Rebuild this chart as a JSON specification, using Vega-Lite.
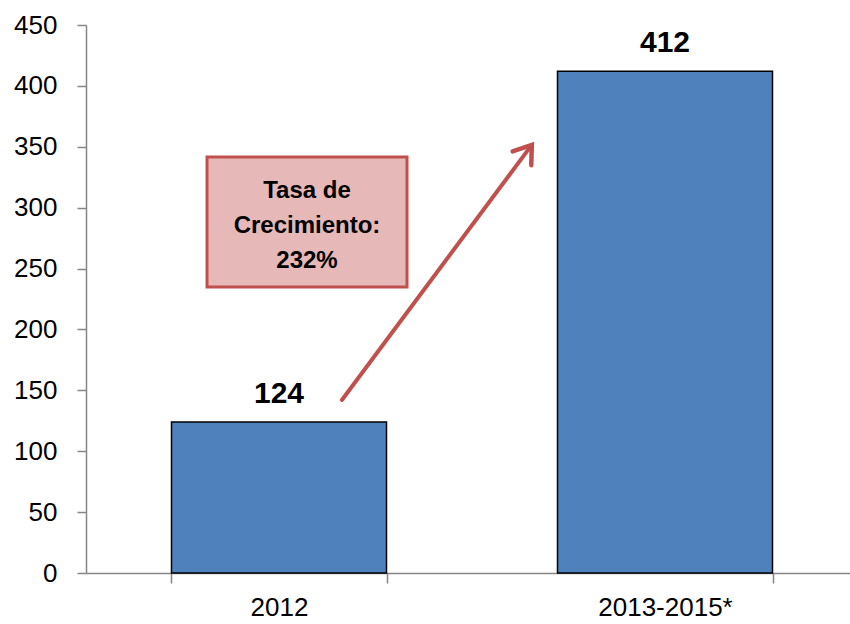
{
  "$schema": "https://vega.github.io/schema/vega-lite/v6.json",
  "autosize": "none",
  "width": 764,
  "height": 548,
  "padding": {"left": 86, "top": 25, "right": 0, "bottom": 51},
  "background": "white",
  "config": {
    "view": {"stroke": null},
    "font": "Liberation Sans",
    "axis": {"labelFont": "Liberation Sans", "labelColor": "black"}
  },
  "resolve": {"scale": {"x": "independent"}, "axis": {"x": "independent"}},
  "layer": [
    {
      "data": {"values": [
        {"periodo": "2012", "valor": 124},
        {"periodo": "2013-2015*", "valor": 412}
      ]},
      "encoding": {
        "x": {
          "field": "periodo", "type": "nominal", "sort": null,
          "scale": {"paddingInner": 0.443, "paddingOuter": 0.2215, "range": [0, 772]},
          "axis": {
            "title": null, "labelAngle": 0, "labelFontSize": 26, "labelPadding": 11,
            "tickBand": "extent", "tickSize": 10, "tickColor": "#868686", "tickWidth": 1.5,
            "domainColor": "#868686", "domainWidth": 1.5
          }
        },
        "y": {
          "field": "valor", "type": "quantitative",
          "scale": {"domain": [0, 450], "nice": false},
          "axis": {
            "title": null, "values": [0, 50, 100, 150, 200, 250, 300, 350, 400, 450],
            "grid": false, "labelFontSize": 26, "labelPadding": 20, "tickSize": 9,
            "tickColor": "#868686", "tickWidth": 1.5, "domainColor": "#868686", "domainWidth": 1.5
          }
        }
      },
      "layer": [
        {"mark": {"type": "bar", "color": "#4F81BD", "stroke": "black", "strokeWidth": 1.5}},
        {"mark": {"type": "text", "fontSize": 30, "fontWeight": "bold", "baseline": "alphabetic", "dy": -19, "color": "black"},
         "encoding": {"text": {"field": "valor", "type": "quantitative"}}}
      ]
    },
    {
      "layer": [
        {
          "data": {"values": [{"x1": 0.3135, "x2": 0.8316, "y1": 234.9, "y2": 341.6}]},
          "mark": {"type": "rect", "fill": "#E6B9B8", "stroke": "#C0504D", "strokeWidth": 3},
          "encoding": {
            "x": {"field": "x1", "type": "quantitative", "scale": {"domain": [0, 2], "range": [0, 772]}, "axis": null},
            "x2": {"field": "x2"},
            "y": {"field": "y1", "type": "quantitative"},
            "y2": {"field": "y2"}
          }
        },
        {
          "data": {"values": [
            {"x": 0.5725, "y": 307.9, "t": "Tasa de"},
            {"x": 0.5725, "y": 279.2, "t": "Crecimiento:"},
            {"x": 0.5725, "y": 250.4, "t": "232%"}
          ]},
          "mark": {"type": "text", "fontSize": 24, "fontWeight": "bold", "baseline": "alphabetic", "align": "center", "color": "black"},
          "encoding": {
            "x": {"field": "x", "type": "quantitative", "scale": {"domain": [0, 2], "range": [0, 772]}, "axis": null},
            "y": {"field": "y", "type": "quantitative"},
            "text": {"field": "t"}
          }
        },
        {
          "data": {"values": [{"x1": 0.663, "x2": 1.15, "y1": 142.1, "y2": 349.5}]},
          "mark": {"type": "rule", "color": "#C0504D", "strokeWidth": 4, "strokeCap": "round"},
          "encoding": {
            "x": {"field": "x1", "type": "quantitative", "scale": {"domain": [0, 2], "range": [0, 772]}, "axis": null},
            "x2": {"field": "x2"},
            "y": {"field": "y1", "type": "quantitative"},
            "y2": {"field": "y2"}
          }
        },
        {
          "data": {"values": [{"x": 1.155, "y": 351.5}]},
          "mark": {"type": "point", "shape": "M -0.7 1 L 0 0 L 0.7 1", "filled": false, "stroke": "#C0504D", "strokeWidth": 4.5, "strokeCap": "round", "strokeJoin": "miter", "size": 1100, "angle": 36.6, "opacity": 1},
          "encoding": {
            "x": {"field": "x", "type": "quantitative", "scale": {"domain": [0, 2], "range": [0, 772]}, "axis": null},
            "y": {"field": "y", "type": "quantitative"}
          }
        }
      ]
    }
  ]
}
